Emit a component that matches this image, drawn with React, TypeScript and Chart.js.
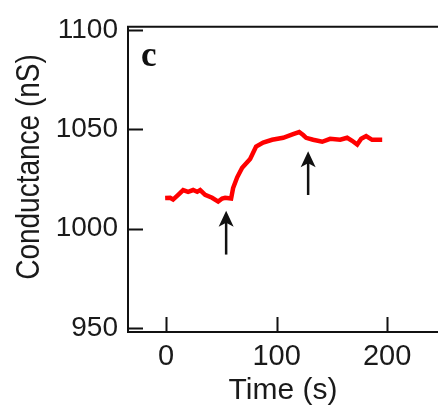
import React, { useEffect, useRef } from "react";
import { Chart, registerables } from "chart.js";

Chart.register(...registerables);

const timeS = [-0.9, 3.6, 6.3, 10.9, 15.4, 19.9, 24.4, 28.1, 30.8, 35.3, 41.6, 47.1, 50.7, 53.4, 58.8, 60.6, 64.3, 68.8, 76.0, 81.4, 87.8, 95.9, 105.9, 114.9, 120.4, 124.0, 126.7, 133.0, 141.2, 148.4, 157.5, 163.8, 168.3, 172.9, 176.5, 181.0, 186.4, 191.9, 195.5];
const conductanceNS = [1015.5, 1015.6, 1014.7, 1017.1, 1019.5, 1018.6, 1019.5, 1018.6, 1019.5, 1017.1, 1015.6, 1013.7, 1015.2, 1015.6, 1015.2, 1020.5, 1025.9, 1030.7, 1035.1, 1041.4, 1043.4, 1044.8, 1045.8, 1047.7, 1048.7, 1047.2, 1045.8, 1044.8, 1043.8, 1045.3, 1044.8, 1045.8, 1044.3, 1042.4, 1045.3, 1046.7, 1044.8, 1044.8, 1044.8];

const xTicks = [0, 100, 200];
const yTicks = [950, 1000, 1050, 1100];

const arrowX = [54.3, 128.5];
const arrowTipY = [1009, 1039];
const arrowTailY = [987, 1017];

const panelLabel = "c";
const xTitle = "Time (s)";
const yTitle = "Conductance (nS)";

const FONT = "'Liberation Sans', Arial, sans-serif";
const INK = "#1a1a1a";

const framePlugin = {
  id: "frame",
  afterDatasetsDraw(chart: any) {
    const ctx = chart.ctx;
    const { left, right, top, bottom } = chart.chartArea;
    const xs = chart.scales.x;
    const ys = chart.scales.y;
    ctx.save();
    ctx.strokeStyle = "#111";
    ctx.lineWidth = 2;
    ctx.beginPath();
    ctx.moveTo(left, top);
    ctx.lineTo(right, top);
    ctx.moveTo(left, top - 1);
    ctx.lineTo(left, bottom);
    ctx.lineTo(right, bottom);
    ctx.stroke();
    // inward ticks
    ctx.beginPath();
    xTicks.forEach((v) => {
      const px = Math.round(xs.getPixelForValue(v)) + 0.5;
      ctx.moveTo(px, bottom);
      ctx.lineTo(px, bottom - 15);
    });
    yTicks.forEach((v) => {
      const py = Math.round(ys.getPixelForValue(v)) + 0.5;
      ctx.moveTo(left, py);
      ctx.lineTo(left + 15, py);
    });
    ctx.stroke();
    // arrows
    ctx.fillStyle = "#111";
    arrowX.forEach((ax, i) => {
      const px = xs.getPixelForValue(ax);
      const tip = ys.getPixelForValue(arrowTipY[i]);
      const tail = ys.getPixelForValue(arrowTailY[i]);
      ctx.lineWidth = 2.5;
      ctx.beginPath();
      ctx.moveTo(px, tail);
      ctx.lineTo(px, tip + 10);
      ctx.stroke();
      ctx.beginPath();
      ctx.moveTo(px, tip);
      ctx.lineTo(px + 7.5, tip + 16);
      ctx.lineTo(px, tip + 12);
      ctx.lineTo(px - 7.5, tip + 16);
      ctx.closePath();
      ctx.fill();
    });
    // panel label
    ctx.fillStyle = "#111";
    ctx.font = "bold 35px 'Liberation Serif', 'Times New Roman', serif";
    ctx.textAlign = "left";
    ctx.textBaseline = "alphabetic";
    ctx.fillText(panelLabel, left + 13, top + 39);
    // y-axis title
    ctx.fillStyle = INK;
    ctx.font = "28px " + FONT;
    ctx.translate(30, 167);
    ctx.rotate(-Math.PI / 2);
    ctx.scale(1, 1.2);
    ctx.textAlign = "center";
    ctx.textBaseline = "middle";
    ctx.fillText(yTitle, 0, 0);
    ctx.restore();
  },
};

export default function App() {
  const ref = useRef<HTMLCanvasElement>(null);
  useEffect(() => {
    const chart = new Chart(ref.current as HTMLCanvasElement, {
      type: "line",
      data: {
        datasets: [
          {
            label: yTitle,
            data: timeS.map((t, i) => ({ x: t, y: conductanceNS[i] })),
            borderColor: "#ff0000",
            borderWidth: 4.5,
            pointRadius: 0,
            tension: 0,
            fill: false,
          },
        ],
      },
      options: {
        animation: false,
        responsive: false,
        maintainAspectRatio: false,
        layout: { padding: { top: 16, left: 0, right: 0, bottom: 0 } },
        plugins: { legend: { display: false }, tooltip: { enabled: false } },
        scales: {
          x: {
            type: "linear",
            min: -34.5,
            max: 246,
            grid: { display: false, drawTicks: false },
            border: { display: false },
            afterBuildTicks: (s: any) => {
              s.ticks = xTicks.map((v) => ({ value: v }));
            },
            afterFit: (s: any) => {
              s.height = 77;
            },
            ticks: {
              color: INK,
              font: { family: FONT, size: 29 },
              padding: 8,
              maxRotation: 0,
              autoSkip: false,
              callback: (v: any) => String(v),
            },
            title: {
              display: true,
              text: xTitle,
              color: INK,
              font: { family: FONT, size: 30 },
              padding: { top: 0, bottom: 0 },
            },
          },
          y: {
            type: "linear",
            min: 948,
            max: 1101.7,
            grid: { display: false, drawTicks: false },
            border: { display: false },
            afterBuildTicks: (s: any) => {
              s.ticks = yTicks.map((v) => ({ value: v }));
            },
            afterFit: (s: any) => {
              s.width = 128;
            },
            ticks: {
              color: INK,
              font: { family: FONT, size: 28 },
              padding: 10,
              autoSkip: false,
              callback: (v: any) => String(v),
            },
            title: { display: false },
          },
        },
      },
      plugins: [framePlugin],
    } as any);
    return () => chart.destroy();
  }, []);
  return (
    <div style={{ position: "fixed", left: 0, top: 0, width: 438, height: 409, background: "#fff" }}>
      <canvas ref={ref} width={438} height={409} style={{ display: "block", width: 438, height: 409 }} />
    </div>
  );
}
